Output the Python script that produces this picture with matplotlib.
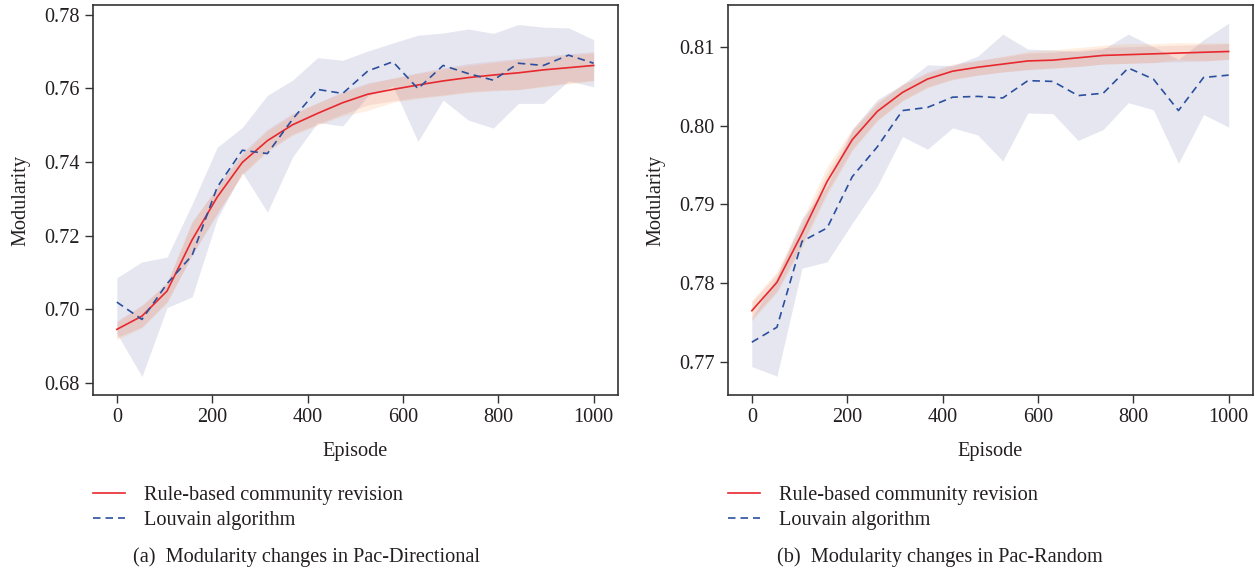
import numpy as np
import matplotlib
matplotlib.use("Agg")
import matplotlib.pyplot as plt

plt.rcParams['font.family'] = ['Liberation Serif', 'DejaVu Serif']

episodes = np.linspace(0, 1000, 20)

# ---- (a) Pac-Directional ----
a_rule_mean = [0.6946, 0.6982, 0.7050, 0.7189, 0.7305, 0.7399, 0.7458, 0.7501, 0.7532, 0.7561,
               0.7584, 0.7597, 0.7609, 0.7620, 0.7629, 0.7636, 0.7642, 0.7650, 0.7656, 0.7662]
a_rule_upper = [0.6969, 0.7012, 0.7070, 0.7237, 0.7332, 0.7426, 0.7489, 0.7532, 0.7561, 0.7591,
                0.7615, 0.7627, 0.7642, 0.7656, 0.7667, 0.7674, 0.7681, 0.7687, 0.7694, 0.7699]
a_rule_lower = [0.6924, 0.6953, 0.7021, 0.7147, 0.7259, 0.7368, 0.7431, 0.7476, 0.7503, 0.7530,
                0.7555, 0.7566, 0.7575, 0.7582, 0.7591, 0.7595, 0.7597, 0.7606, 0.7615, 0.7622]
a_rule_band2_upper = [0.6965, 0.7010, 0.7075, 0.7240, 0.7330, 0.7420, 0.7485, 0.7528, 0.7560, 0.7588,
                      0.7612, 0.7628, 0.7640, 0.7652, 0.7662, 0.7670, 0.7678, 0.7685, 0.7690, 0.7695]
a_rule_band2_lower = [0.6918, 0.6950, 0.7018, 0.7150, 0.7262, 0.7365, 0.7428, 0.7472, 0.7500, 0.7525,
                      0.7540, 0.7562, 0.7572, 0.7580, 0.7588, 0.7593, 0.7596, 0.7604, 0.7612, 0.7620]
a_louv_mean = [0.7020, 0.6973, 0.7070, 0.7147, 0.7332, 0.7432, 0.7423, 0.7516, 0.7597, 0.7586,
               0.7647, 0.7672, 0.7599, 0.7662, 0.7640, 0.7622, 0.7668, 0.7662, 0.7690, 0.7668]
a_louv_upper = [0.7086, 0.7129, 0.7142, 0.7286, 0.7440, 0.7494, 0.7581, 0.7622, 0.7683, 0.7676,
                0.7701, 0.7723, 0.7744, 0.7750, 0.7761, 0.7749, 0.7773, 0.7766, 0.7764, 0.7732]
a_louv_lower = [0.6935, 0.6818, 0.7005, 0.7034, 0.7246, 0.7372, 0.7264, 0.7413, 0.7507, 0.7498,
                0.7579, 0.7606, 0.7456, 0.7568, 0.7514, 0.7492, 0.7559, 0.7559, 0.7620, 0.7604]

# ---- (b) Pac-Random ----
b_rule_mean = [0.7765, 0.7801, 0.7863, 0.7929, 0.7982, 0.8018, 0.8042, 0.8059, 0.8069, 0.8074,
               0.8078, 0.8082, 0.8083, 0.8086, 0.8089, 0.8090, 0.8091, 0.8092, 0.8093, 0.8094]
b_rule_upper = [0.7776, 0.7812, 0.7874, 0.7940, 0.7993, 0.8028, 0.8052, 0.8068, 0.8078, 0.8083,
                0.8087, 0.8092, 0.8093, 0.8096, 0.8099, 0.8100, 0.8101, 0.8102, 0.8103, 0.8104]
b_rule_lower = [0.7755, 0.7790, 0.7850, 0.7916, 0.7970, 0.8007, 0.8032, 0.8049, 0.8059, 0.8064,
                0.8068, 0.8071, 0.8073, 0.8075, 0.8078, 0.8079, 0.8080, 0.8081, 0.8082, 0.8084]
b_rule_band2_upper = [0.7778, 0.7815, 0.7880, 0.7948, 0.7996, 0.8030, 0.8052, 0.8066, 0.8076, 0.8082,
                      0.8088, 0.8094, 0.8096, 0.8099, 0.8102, 0.8104, 0.8104, 0.8105, 0.8105, 0.8105]
b_rule_band2_lower = [0.7752, 0.7788, 0.7846, 0.7912, 0.7968, 0.8006, 0.8031, 0.8048, 0.8058, 0.8064,
                      0.8068, 0.8071, 0.8073, 0.8075, 0.8078, 0.8079, 0.8080, 0.8084, 0.8082, 0.8084]
b_louv_mean = [0.7725, 0.7744, 0.7853, 0.7870, 0.7935, 0.7973, 0.8019, 0.8023, 0.8036, 0.8037,
               0.8035, 0.8057, 0.8056, 0.8038, 0.8041, 0.8073, 0.8059, 0.8019, 0.8061, 0.8064]
b_louv_upper = [0.7756, 0.7808, 0.7882, 0.7923, 0.7995, 0.8033, 0.8052, 0.8077, 0.8076, 0.8088,
                0.8116, 0.8097, 0.8096, 0.8094, 0.8097, 0.8116, 0.8100, 0.8084, 0.8109, 0.8130]
b_louv_lower = [0.7694, 0.7682, 0.7819, 0.7827, 0.7876, 0.7923, 0.7986, 0.7970, 0.7997, 0.7988,
                0.7955, 0.8016, 0.8015, 0.7981, 0.7995, 0.8029, 0.8020, 0.7952, 0.8014, 0.7998]

a_yticks = [0.68, 0.70, 0.72, 0.74, 0.76, 0.78]
b_yticks = [0.77, 0.78, 0.79, 0.80, 0.81]
xticks = [0, 200, 400, 600, 800, 1000]

labels = ["Rule-based community revision", "Louvain algorithm"]
captions = ["(a)  Modularity changes in Pac-Directional", "(b)  Modularity changes in Pac-Random"]

RED = '#e8282d'
BLUE = '#2b4f9e'
TXT = '#231f20'
FS = 14.6

fig = plt.figure(figsize=(12.56, 5.76), dpi=100)
W, H = 1256, 576

def make_ax(x0, x1, y0, y1):
    return fig.add_axes([x0 / W, 1 - y1 / H, (x1 - x0) / W, (y1 - y0) / H])

axes = [make_ax(93, 617.5, 5, 395), make_ax(728, 1252.5, 5, 395)]
data = [
    (a_rule_mean, a_rule_lower, a_rule_upper, a_rule_band2_lower, a_rule_band2_upper,
     a_louv_mean, a_louv_lower, a_louv_upper, a_yticks, (0.6768, 0.7826)),
    (b_rule_mean, b_rule_lower, b_rule_upper, b_rule_band2_lower, b_rule_band2_upper,
     b_louv_mean, b_louv_lower, b_louv_upper, b_yticks, (0.7658, 0.8153)),
]

for i, (ax, d) in enumerate(zip(axes, data)):
    rm, rl, ru, ol, ou, lm, ll, lu, yt, ylim = d
    ax.fill_between(episodes, ll, lu, color='#1a237e', alpha=0.11, linewidth=0)
    ax.fill_between(episodes, ol, ou, color='#ffa050', alpha=0.16, linewidth=0)
    ax.fill_between(episodes, rl, ru, color='#c03a48', alpha=0.10, linewidth=0)
    l1, = ax.plot(episodes, rm, color=RED, lw=1.2, label=labels[0])
    l2, = ax.plot(episodes, lm, color=BLUE, lw=1.2, dashes=(4.5, 3), label=labels[1])
    ax.set_xlim(-50, 1050)
    ax.set_ylim(*ylim)
    ax.set_xticks(xticks)
    ax.set_yticks(yt)
    ax.set_yticklabels([f"{v:.2f}" for v in yt])
    ax.tick_params(labelsize=FS, colors='#333333', labelcolor=TXT, length=6, width=1.0)
    for s in ax.spines.values():
        s.set_color('#333333')
        s.set_linewidth(1.2)
    ax.set_xlabel("Episode", fontsize=FS, color=TXT, labelpad=10.5)
    ax.set_ylabel("Modularity", fontsize=FS, color=TXT, labelpad=10)
    x_left = [93, 728][i]
    fig.legend(handles=[l1, l2], labels=labels, loc='center left',
               bbox_to_anchor=(x_left / W, 1 - 508 / H), frameon=False,
               fontsize=FS, handlelength=1.6, handletextpad=0.9, labelspacing=0.32,
               borderpad=0, borderaxespad=0, labelcolor=TXT)
    fig.text([133, 777][i] / W, 1 - 557 / H, captions[i], fontsize=FS, color=TXT,
             ha='left', va='center')

fig.savefig("out.png", dpi=100)
